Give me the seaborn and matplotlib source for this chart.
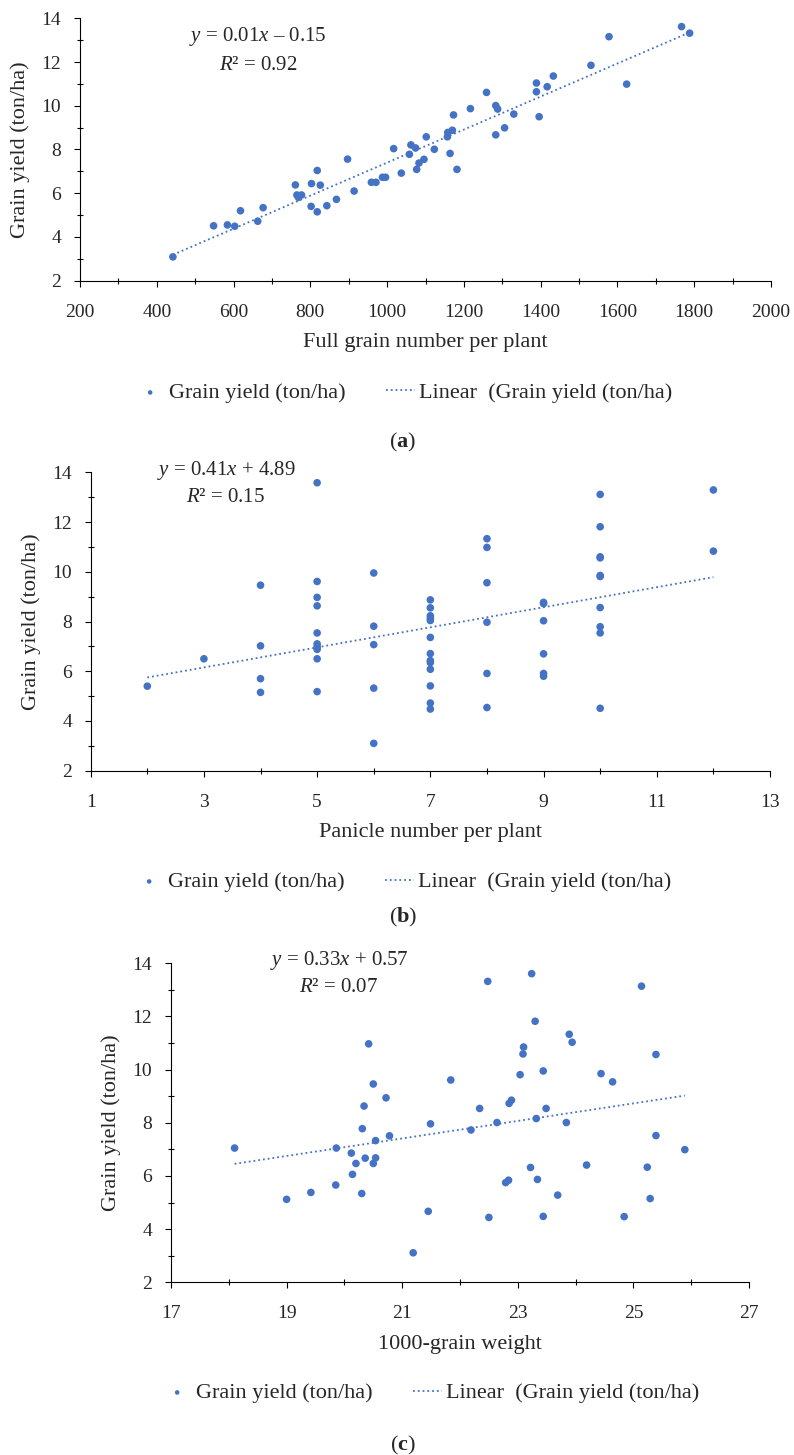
import numpy as np
import pandas as pd
import matplotlib
matplotlib.use("Agg")
import matplotlib.pyplot as plt
import seaborn as sns

# panel (a): full grain number per plant vs grain yield
grain_number = [442, 548, 584, 603, 618, 663, 677, 761, 765, 777, 769, 802, 803, 818, 818,
                826, 843, 868, 897, 914, 959, 971, 988, 996, 1017, 1037, 1058, 1062, 1074,
                1077, 1083, 1096, 1102, 1123, 1157, 1158, 1164, 1170, 1173, 1182, 1217, 1259,
                1283, 1288, 1283, 1306, 1330, 1389, 1389, 1396, 1417, 1433, 1531, 1578, 1624,
                1767, 1788]
yield_a = [3.09, 4.51, 4.55, 4.49, 5.20, 4.72, 5.34, 6.38, 5.92, 5.92, 5.81, 5.40, 6.44, 7.04,
           5.15, 6.37, 5.43, 5.72, 7.56, 6.10, 6.50, 6.50, 6.73, 6.73, 8.04, 6.92, 7.78, 8.21,
           8.07, 7.09, 7.38, 7.55, 8.58, 8.01, 8.58, 8.78, 7.82, 8.88, 9.58, 7.09, 9.87, 10.61,
           10.01, 9.85, 8.67, 8.99, 9.62, 11.04, 10.64, 9.50, 10.87, 11.36, 11.85, 13.16, 10.99,
           13.62, 13.32]

# panel (b): panicle number per plant vs grain yield
panicle_number = [2, 3,
                  4, 4, 4, 4,
                  5, 5, 5, 5, 5, 5, 5, 5, 5, 5,
                  6, 6, 6, 6, 6,
                  7, 7, 7, 7, 7, 7, 7, 7, 7, 7, 7, 7, 7,
                  8, 8, 8, 8, 8, 8,
                  9, 9, 9, 9, 9, 9,
                  10, 10, 10, 10, 10, 10, 10, 10, 10, 10,
                  12, 12]
yield_b = [5.40, 6.50,
           9.46, 7.02, 5.70, 5.15,
           13.58, 9.61, 8.97, 8.63, 7.54, 7.10, 6.98, 6.88, 6.50, 5.18,
           9.95, 7.81, 7.07, 5.32, 3.10,
           8.87, 8.55, 8.23, 8.13, 8.04, 7.36, 6.71, 6.43, 6.35, 6.08, 5.41, 4.72, 4.48,
           11.33, 10.98, 9.56, 7.97, 5.91, 4.54,
           8.77, 8.72, 8.03, 6.70, 5.91, 5.80,
           13.11, 11.81, 10.60, 10.56, 9.85, 9.81, 8.56, 7.79, 7.54, 4.51,
           13.29, 10.83]

# panel (c): 1000-grain weight vs grain yield
grain_weight = [18.10, 19.00, 19.42, 19.85, 19.86, 20.12, 20.20, 20.14, 20.30, 20.31, 20.34,
                20.36, 20.42, 20.50, 20.50, 20.54, 20.54, 20.72, 20.78, 21.19, 21.45, 21.49,
                21.84, 22.19, 22.34, 22.48, 22.50, 22.64, 22.79, 22.84, 22.85, 22.89, 23.04,
                23.09, 23.10, 23.22, 23.24, 23.30, 23.32, 23.34, 23.44, 23.44, 23.49, 23.69,
                23.84, 23.89, 23.94, 24.19, 24.44, 24.64, 24.84, 25.14, 25.24, 25.29, 25.39,
                25.39, 25.89]
yield_c = [7.05, 5.12, 5.38, 5.66, 7.05, 6.86, 6.47, 6.06, 5.34, 7.78, 8.63,
           6.67, 10.97, 9.46, 6.47, 7.33, 6.68, 8.94, 7.51, 3.11, 4.67, 7.96,
           9.61, 7.73, 8.54, 13.32, 4.44, 8.01, 5.75, 5.84, 8.73, 8.85, 9.81,
           10.59, 10.85, 6.32, 13.61, 11.82, 8.16, 5.87, 9.95, 4.48, 8.54, 5.28,
           8.01, 11.33, 11.03, 6.41, 9.85, 9.54, 4.47, 13.14, 6.33, 5.15, 10.57,
           7.52, 6.99]

xlabels = ["Full grain number per plant", "Panicle number per plant", "1000-grain weight"]
equations = ["$y$ = 0.01$x$ \u2013 0.15", "$y$ = 0.41$x$ + 4.89", "$y$ = 0.33$x$ + 0.57"]
r2_texts = ["$R$\u00b2 = 0.92", "$R$\u00b2 = 0.15", "$R$\u00b2 = 0.07"]
panel_tags = ["a", "b", "c"]

sns.set_style("white")
plt.rcParams["font.family"] = ["Liberation Serif", "DejaVu Serif"]
plt.rcParams["mathtext.fontset"] = "custom"
plt.rcParams["mathtext.rm"] = "Liberation Serif"
plt.rcParams["mathtext.it"] = "Liberation Serif:italic"
plt.rcParams["mathtext.bf"] = "Liberation Serif:bold"

W, H = 794, 1455
fig = plt.figure(figsize=(W / 100, H / 100), dpi=100)
blue = "#4472C4"
fs_tick = 14
fs_lab = 16
fs_eq = 15

def px(x, y):
    return x / W, 1 - y / H

# axes boxes in pixels: left, right, top, bottom
boxes = [(80, 771, 18.3, 280.7), (90.7, 770, 472.3, 770.7), (171, 749, 963.3, 1282.3)]
xlims = [(200, 2000, 200, 100), (1, 13, 2, 1), (17, 27, 2, 1)]
eq_pos = [(258, 37, 65), (226, 470, 497), (339, 961, 988)]
legend_x = [404, 403, 431]
legend_y = [393, 882, 1393]
tag_y = [442, 917, 1445]

frames = [
    pd.DataFrame({"x": grain_number, "y": yield_a}),
    pd.DataFrame({"x": panicle_number, "y": yield_b}),
    pd.DataFrame({"x": grain_weight, "y": yield_c}),
]

for i, df in enumerate(frames):
    l, r, t, b = boxes[i]
    ax = fig.add_axes([l / W, 1 - b / H, (r - l) / W, (b - t) / H])
    sns.scatterplot(data=df, x="x", y="y", ax=ax, color=blue, s=30, edgecolor="none",
                    zorder=3, legend=False)
    pts = ax.collections[-1]
    sns.regplot(data=df, x="x", y="y", ax=ax, scatter=False, ci=None, truncate=True,
                line_kws=dict(color=blue, lw=1.3, ls=":"))
    trend = ax.lines[-1]

    x0, x1, major, minor = xlims[i]
    ax.set_xlim(x0, x1)
    ax.set_ylim(2, 14)
    ax.set_xticks(np.arange(x0, x1 + minor / 2, major))
    ax.set_xticks(np.arange(x0, x1 + minor / 2, minor), minor=True)
    ax.set_yticks(np.arange(2, 15, 2))
    ax.set_yticks(np.arange(2, 15, 1), minor=True)
    for side in ["top", "right"]:
        ax.spines[side].set_visible(False)
    for side in ["left", "bottom"]:
        ax.spines[side].set_color("black")
        ax.spines[side].set_linewidth(0.8)
    ax.tick_params(which="both", bottom=True, left=True)
    ax.tick_params(which="major", direction="out", length=4.5, width=0.8, color="black",
                   labelsize=fs_tick, pad=9)
    ax.tick_params(axis="x", which="major", pad=12)
    ax.tick_params(which="minor", direction="inout", length=5, width=0.8, color="black")

    ax.set_xlabel(xlabels[i], fontsize=fs_lab, va="center")
    ax.set_ylabel("Grain yield (ton/ha)", fontsize=fs_lab, va="center")
    ax.xaxis.set_label_coords(0.5, -62 / (b - t))
    ax.yaxis.set_label_coords(-60 / (r - l), 0.5)

    lx = (legend_x[i] - l) / (r - l)
    ly = -(legend_y[i] - b) / (b - t)
    ax.legend([pts, trend], ["Grain yield (ton/ha)", "Linear  (Grain yield (ton/ha)"],
              loc="center", bbox_to_anchor=(lx, ly), ncol=2, frameon=False, fontsize=fs_lab,
              handlelength=1.3, handletextpad=0.2, columnspacing=1.8, markerscale=0.6)

    ex, ey1, ey2 = eq_pos[i]
    fig.text(*px(ex, ey1), equations[i], fontsize=fs_eq, ha="center", va="center")
    fig.text(*px(ex, ey2), r2_texts[i], fontsize=fs_eq, ha="center", va="center")
    fig.text(*px(403, tag_y[i]), "($\\mathbf{%s}$)" % panel_tags[i], fontsize=fs_lab,
             ha="center", va="center")

fig.savefig("out.png", dpi=100)
